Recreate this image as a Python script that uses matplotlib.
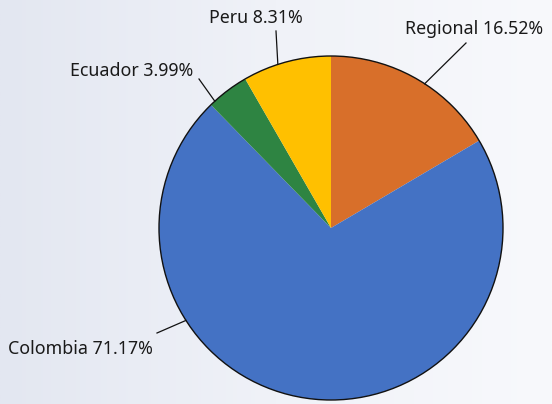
import numpy as np
import matplotlib.pyplot as plt
from matplotlib.colors import LinearSegmentedColormap

# --- data (clockwise from 12 o'clock) ---
labels = ["Regional", "Colombia", "Ecuador", "Peru"]
shares = [16.52, 71.17, 3.99, 8.31]
colors = ["#d86f2a", "#4472c4", "#2e8442", "#ffc000"]

# label layout: angle on rim (deg, ccw from east), text anchor in pixels
label_angle = [57, 212.5, 132.5, 108]
label_text_xy = [(405, 29), (153, 349), (193, 71), (256, 18)]
label_line_end = [(466, 43), (157, 333), (199, 79), (276, 31)]
label_ha = ["left", "right", "right", "center"]

W, H = 552, 404
CX, CY, R = 331, 228, 172

plt.rcParams["font.family"] = ["Noto Sans", "DejaVu Sans"]

fig = plt.figure(figsize=(W / 100, H / 100), dpi=100)

# gradient background
bg = fig.add_axes([0, 0, 1, 1])
grad = np.linspace(0, 1, 256)[None, :] * np.ones((16, 1))
cmap = LinearSegmentedColormap.from_list("bg", ["#e3e7f1", "#f0f2f8", "#f8f9fc"])
bg.imshow(grad, aspect="auto", cmap=cmap, extent=[0, W, H, 0])
bg.set_axis_off()

ax = fig.add_axes([0, 0, 1, 1])
ax.pie(
    shares,
    colors=colors,
    startangle=90,
    counterclock=False,
    center=(CX, H - CY),
    radius=R,
    frame=True,
    wedgeprops=dict(linewidth=0),
)
ax.set_xlim(0, W)
ax.set_ylim(0, H)
ax.set_aspect("equal")
ax.set_axis_off()

# outer outline
ax.add_patch(plt.Circle((CX, H - CY), R, fill=False, edgecolor="#111111", linewidth=1.0))

for lab, val, ang, txy, lend, ha in zip(labels, shares, label_angle,
                                        label_text_xy, label_line_end, label_ha):
    rx = CX + R * np.cos(np.radians(ang))
    ry = (H - CY) + R * np.sin(np.radians(ang))
    ax.plot([rx, lend[0]], [ry, H - lend[1]], color="#111111", linewidth=0.9)
    ax.text(txy[0], H - txy[1], f"{lab} {val:.2f}%", ha=ha, va="center",
            fontsize=12.8, color="#1a1a1a")

fig.savefig("out.png", dpi=100)
